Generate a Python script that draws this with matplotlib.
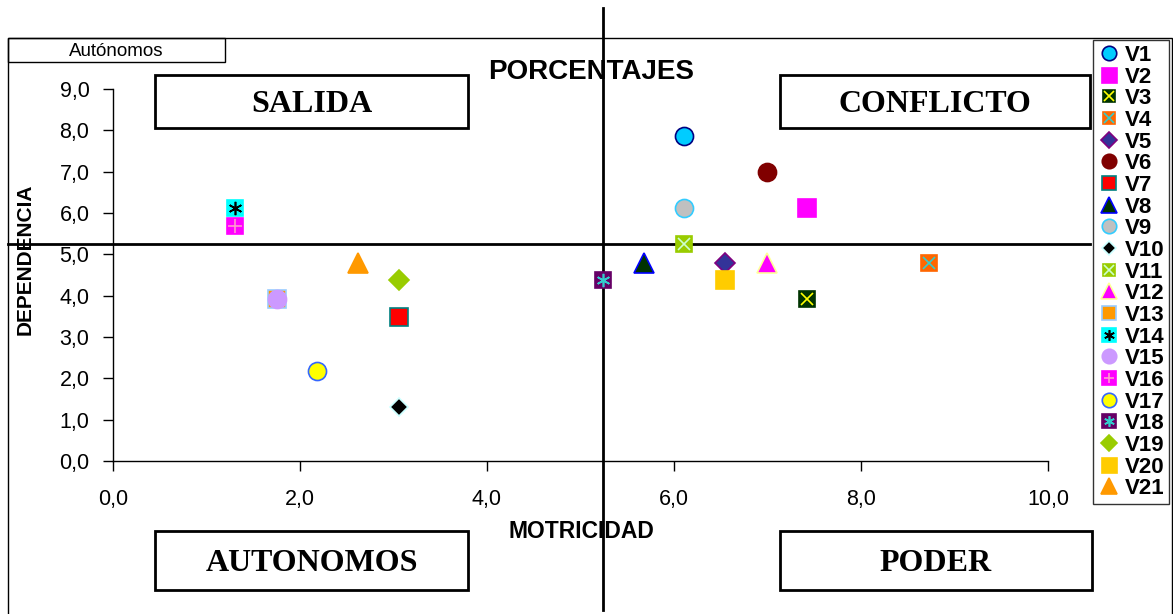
import matplotlib
matplotlib.use('Agg')
from matplotlib import pyplot as plt
from matplotlib.patches import Rectangle

# data
variables = ['V1', 'V2', 'V3', 'V4', 'V5', 'V6', 'V7', 'V8', 'V9', 'V10', 'V11',
             'V12', 'V13', 'V14', 'V15', 'V16', 'V17', 'V18', 'V19', 'V20', 'V21']
motricidad = [6.11, 7.42, 7.42, 8.73, 6.55, 6.99, 3.06, 5.68, 6.11, 3.06, 6.11,
              6.99, 1.75, 1.31, 1.75, 1.31, 2.18, 5.24, 3.06, 6.55, 2.62]
dependencia = [7.86, 6.11, 3.93, 4.80, 4.80, 6.99, 3.49, 4.80, 6.11, 1.31, 5.24,
               4.80, 3.93, 6.11, 3.93, 5.68, 2.18, 4.37, 4.37, 4.37, 4.80]
media_motricidad = 5.24
media_dependencia = 5.24
x_ticks = [0, 2, 4, 6, 8, 10]
y_ticks = [0, 1, 2, 3, 4, 5, 6, 7, 8, 9]

# marker, size, face, edge, overlay marker, overlay colour
styles = [
    ('o', 13, '#00CCFF', '#000080', None, None),
    ('s', 13.5, '#FF00FF', '#FF00FF', None, None),
    ('s', 11.5, '#003300', '#003300', 'x', '#FFFF00'),
    ('s', 11.5, '#FF6600', '#FF6600', 'x', '#33CCCC'),
    ('D', 10.5, '#333399', '#800080', None, None),
    ('o', 13, '#800000', '#800000', None, None),
    ('s', 13, '#FF0000', '#008080', None, None),
    ('^', 14, '#003300', '#0000FF', None, None),
    ('o', 13, '#C0C0C0', '#33CCFF', None, None),
    ('D', 9.5, '#000000', '#CCFFFF', None, None),
    ('s', 11.5, '#99CC00', '#99CC00', 'x', '#CCFFCC'),
    ('^', 14, '#FF00FF', '#FFFF99', None, None),
    ('s', 13, '#FF9900', '#99CCFF', None, None),
    ('s', 12, '#00FFFF', '#00FFFF', (6, 2, 0), '#000000'),
    ('o', 13, '#CC99FF', '#CC99FF', None, None),
    ('s', 12, '#FF00FF', '#FF00FF', '+', '#FF99CC'),
    ('o', 13, '#FFFF00', '#3366FF', None, None),
    ('s', 12, '#660066', '#660066', (6, 2, 0), '#33CCCC'),
    ('D', 10, '#99CC00', '#99CC00', None, None),
    ('s', 13.5, '#FFCC00', '#FFCC00', None, None),
    ('^', 14, '#FF9900', '#FF9900', None, None),
]

W, H = 1173, 614
fig = plt.figure(figsize=(W / 100, H / 100), dpi=100)
ax = fig.add_axes([113 / W, 1 - 461 / H, 935 / W, 372 / H])

sans = 'Liberation Sans'
serif = 'Liberation Serif'

handles = []
for name, x, y, st in zip(variables, motricidad, dependencia, styles):
    mk, ms, fc, ec, ov, oc = st
    h1, = ax.plot([x], [y], linestyle='none', marker=mk, markersize=ms,
                  markerfacecolor=fc, markeredgecolor=ec, markeredgewidth=1.2,
                  clip_on=False, zorder=3)
    if ov is not None:
        h2, = ax.plot([x], [y], linestyle='none', marker=ov, markersize=ms * 0.8,
                      markeredgecolor=oc, markeredgewidth=1.2, clip_on=False, zorder=4)
        handles.append((h1, h2))
    else:
        handles.append(h1)

ax.set_xlim(0, 10)
ax.set_ylim(0, 9)
ax.set_xticks(x_ticks)
ax.set_yticks(y_ticks)
fmt = lambda v: ('%.1f' % v).replace('.', ',')
ax.set_xticklabels([fmt(v) for v in x_ticks], fontfamily=sans, fontsize=15.5)
ax.set_yticklabels([fmt(v) for v in y_ticks], fontfamily=sans, fontsize=15.5)
ax.tick_params(direction='out', length=7, width=1, pad=10)
ax.tick_params(axis='x', pad=13)
for s in ['top', 'right']:
    ax.spines[s].set_visible(False)
for s in ['left', 'bottom']:
    ax.spines[s].set_linewidth(1)

# mean lines, running past the plot area
ax.axvline(media_motricidad, ymin=(461 - 610) / 372, ymax=(461 - 8) / 372,
           color='black', lw=2, clip_on=False, zorder=2)
ax.axhline(media_dependencia, xmin=(8 - 113) / 935, xmax=(1090 - 113) / 935,
           color='black', lw=2, clip_on=False, zorder=2)

# outer frame and small title box
fig.add_artist(Rectangle((8 / W, -0.02), (1172 - 8) / W, 1.02 - 38 / H,
                         transform=fig.transFigure, fill=False, lw=1, ec='black'))
fig.add_artist(Rectangle((8 / W, 1 - 62 / H), (225 - 8) / W, 24 / H,
                         transform=fig.transFigure, fill=False, lw=1, ec='black'))
fig.text(116 / W, 1 - 51 / H, 'Autónomos', ha='center', va='center',
         fontfamily=sans, fontsize=13.5)

# quadrant boxes
quadrants = [('SALIDA', 155, 75, 468, 128), ('CONFLICTO', 780, 75, 1090, 128),
             ('AUTONOMOS', 155, 531, 468, 590), ('PODER', 780, 531, 1092, 590)]
for label, x0, y0, x1, y1 in quadrants:
    fig.add_artist(Rectangle((x0 / W, 1 - y1 / H), (x1 - x0) / W, (y1 - y0) / H,
                             transform=fig.transFigure, fill=False, lw=2, ec='black'))
    fig.text((x0 + x1) / 2 / W, 1 - ((y0 + y1) / 2 + 3) / H, label, ha='center',
             va='center', fontfamily=serif, fontweight='bold', fontsize=23)

fig.text(591 / W, 1 - 72 / H, 'PORCENTAJES', ha='center', va='center',
         fontfamily=sans, fontweight='bold', fontsize=20)
fig.text(581 / W, 1 - 531 / H, 'MOTRICIDAD', ha='center', va='center',
         fontfamily=sans, fontweight='bold', fontsize=16.5)
fig.text(25 / W, 1 - 259 / H, 'DEPENDENCIA', ha='center', va='center',
         rotation=90, fontfamily=sans, fontweight='bold', fontsize=15)

leg = fig.legend(handles, variables, loc='upper left',
                 bbox_to_anchor=(1093 / W, 1 - 40 / H), bbox_transform=fig.transFigure,
                 borderaxespad=0, frameon=True, fancybox=False, markerscale=0.8,
                 handlelength=1.0, handletextpad=0.2, labelspacing=0.03,
                 borderpad=0.22, prop={'family': sans, 'weight': 'bold', 'size': 16})
leg.get_frame().set_edgecolor('black')
leg.get_frame().set_linewidth(1)

fig.savefig('out.png', dpi=100)
